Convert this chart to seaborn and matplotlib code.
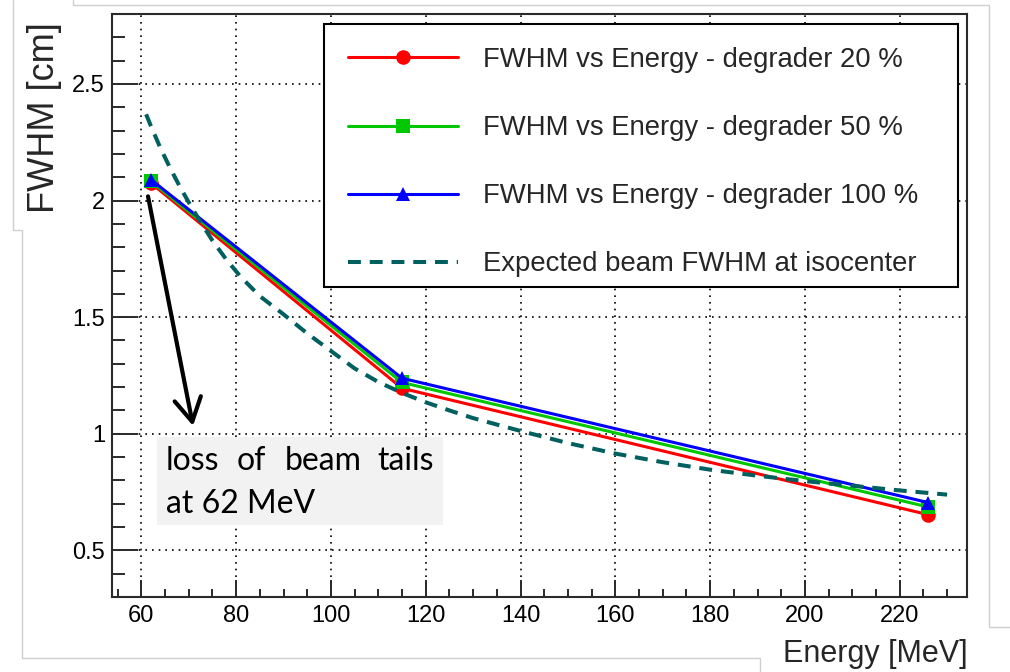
import numpy as np
import pandas as pd
import matplotlib
matplotlib.use("Agg")
import matplotlib.pyplot as plt
import seaborn as sns
from matplotlib.ticker import MultipleLocator, FixedLocator, FuncFormatter
from matplotlib.lines import Line2D
from matplotlib.patches import Rectangle

# ---------------- data ----------------
energy = [62, 115, 226]
fwhm_20 = [2.075, 1.195, 0.653]
fwhm_50 = [2.083, 1.220, 0.686]
fwhm_100 = [2.090, 1.238, 0.705]

exp_energy = [61, 62, 64, 66, 68, 70, 72, 75, 78, 81, 85, 90, 95, 100, 105,
              110, 115, 120, 125, 130, 140, 150, 160, 170, 180, 190, 200, 210,
              220, 230]
exp_fwhm = [2.37, 2.32, 2.226, 2.142, 2.064, 1.992, 1.924, 1.828, 1.745, 1.672,
            1.59, 1.512, 1.43, 1.355, 1.28, 1.222, 1.175, 1.135, 1.10, 1.067,
            1.012, 0.96, 0.915, 0.878, 0.846, 0.82, 0.797, 0.777, 0.757, 0.739]

series_labels = ["FWHM vs Energy - degrader 20 %",
                 "FWHM vs Energy - degrader 50 %",
                 "FWHM vs Energy - degrader 100 %",
                 "Expected beam FWHM at isocenter"]
x_ticks = [60, 80, 100, 120, 140, 160, 180, 200, 220]
y_ticks = [0.5, 1, 1.5, 2, 2.5]
x_label = "Energy [MeV]"
y_label = "FWHM [cm]"
note_words_1 = ["loss", "of", "beam", "tails"]
note_line_2 = "at 62 MeV"

# ---------------- style ----------------
sns.set_theme(style="white")
plt.rcParams["font.family"] = ["Liberation Sans", "DejaVu Sans"]

W, H = 1010, 672
fig = plt.figure(figsize=(W / 100, H / 100), dpi=100)
fig.patch.set_facecolor("white")

def fx(px):
    return px / W

def fy(py):
    return 1 - py / H

ax_l, ax_t, ax_r, ax_b = 112, 14, 967, 597
ax = fig.add_axes([fx(ax_l), fy(ax_b), fx(ax_r) - fx(ax_l), fy(ax_t) - fy(ax_b)])
ax.set_facecolor("white")

series = [(fwhm_20, "#ff0000", "o"), (fwhm_50, "#00c800", "s"), (fwhm_100, "#0000ff", "^")]
for (vals, col, mk), lab in zip(series, series_labels[:3]):
    sns.lineplot(x=energy, y=vals, ax=ax, color=col, marker=mk, markersize=10.5,
                 markeredgewidth=0, linewidth=2.2, label=lab, zorder=3)

sns.lineplot(x=exp_energy, y=exp_fwhm, ax=ax, color="#006060", linewidth=2.9,
             linestyle=(0, (3.2, 2.2)), label=series_labels[3], zorder=4)

ax.set_xlim(53.8, 234.2)
ax.set_ylim(0.3, 2.8)
ax.xaxis.set_major_locator(FixedLocator(x_ticks))
ax.xaxis.set_minor_locator(MultipleLocator(5))
ax.yaxis.set_major_locator(FixedLocator(y_ticks))
ax.yaxis.set_minor_locator(MultipleLocator(0.1))
ax.yaxis.set_major_formatter(FuncFormatter(lambda v, p: f"{v:g}"))
ax.xaxis.set_major_formatter(FuncFormatter(lambda v, p: f"{v:g}"))

spine_col = "#2a2a2a"
for s in ax.spines.values():
    s.set_visible(True)
    s.set_color(spine_col)
    s.set_linewidth(1.5)

ax.tick_params(axis="both", which="both", direction="in", colors=spine_col,
               labelcolor="black", width=1.4, bottom=True, left=True,
               top=False, right=False)
ax.tick_params(axis="y", which="major", length=19, pad=5, labelsize=17)
ax.tick_params(axis="y", which="minor", length=9.5)
ax.tick_params(axis="x", which="major", length=12.5, pad=6, labelsize=17)
ax.tick_params(axis="x", which="minor", length=6)

ax.set_axisbelow(True)
ax.grid(True, which="major", color="black", linestyle=(0, (1, 3)), linewidth=1.2)

ax.set_xlabel(x_label, fontsize=22, loc="right")
ax.xaxis.set_label_coords(1.001, -0.072)
ax.set_ylabel(y_label, fontsize=26, loc="top")
ax.yaxis.set_label_coords(-0.058, 0.986)

# legend (own frame drawn so padding can match the reference box)
lg_l, lg_t, lg_r, lg_b = 324, 24, 958, 287
leg = ax.legend(loc="upper left",
                bbox_to_anchor=(0.2503, 0.0, 0.7392, 0.981),
                mode="expand", borderaxespad=0, fontsize=19.8, frameon=True,
                fancybox=False, framealpha=1, edgecolor="black",
                handlelength=4.0, handletextpad=0.9, labelspacing=1.53,
                borderpad=0.8, numpoints=1)
leg.get_frame().set_visible(False)
leg.set_zorder(6)
ax.add_patch(Rectangle((fx(lg_l), fy(lg_b)), fx(lg_r) - fx(lg_l), fy(lg_t) - fy(lg_b),
                       transform=fig.transFigure, facecolor="white",
                       edgecolor="black", linewidth=1.5, zorder=5.5))

# annotation arrow
ax.annotate("", xy=(70.9, 1.034), xytext=(61.4, 2.018),
            arrowprops=dict(arrowstyle="->,head_length=1.4,head_width=0.8",
                            lw=3, color="black", shrinkA=0, shrinkB=0),
            zorder=5)

# note box
bx0, by0, bx1, by1 = 157, 437, 443, 525
ax.add_patch(Rectangle((fx(bx0), fy(by1)), fx(bx1) - fx(bx0), fy(by0) - fy(by1),
                       transform=fig.transFigure, facecolor="#f2f2f2",
                       edgecolor="none", zorder=1))
note_font = dict(fontsize=23, family=["Lato", "DejaVu Sans"], ha="left",
                 va="baseline", color="black")
for word, px in zip(note_words_1, [166, 237, 285, 377]):
    fig.text(fx(px), fy(470), word, **note_font)
fig.text(fx(166), fy(513), note_line_2, **note_font)

# slide frame lines (screenshot background)
frame_col = "#cfcfcf"
frame_paths = [
    ([13, 13, 22, 22, 760, 760], [0, 230, 230, 658, 658, 672]),
    ([73, 73, 989, 989, 1010], [0, 5, 5, 627, 627]),
]
for xs, ys in frame_paths:
    fig.add_artist(Line2D([fx(v) for v in xs], [fy(v) for v in ys],
                          transform=fig.transFigure, color=frame_col, lw=1.0))

fig.savefig("out.png", dpi=100, facecolor="white")
